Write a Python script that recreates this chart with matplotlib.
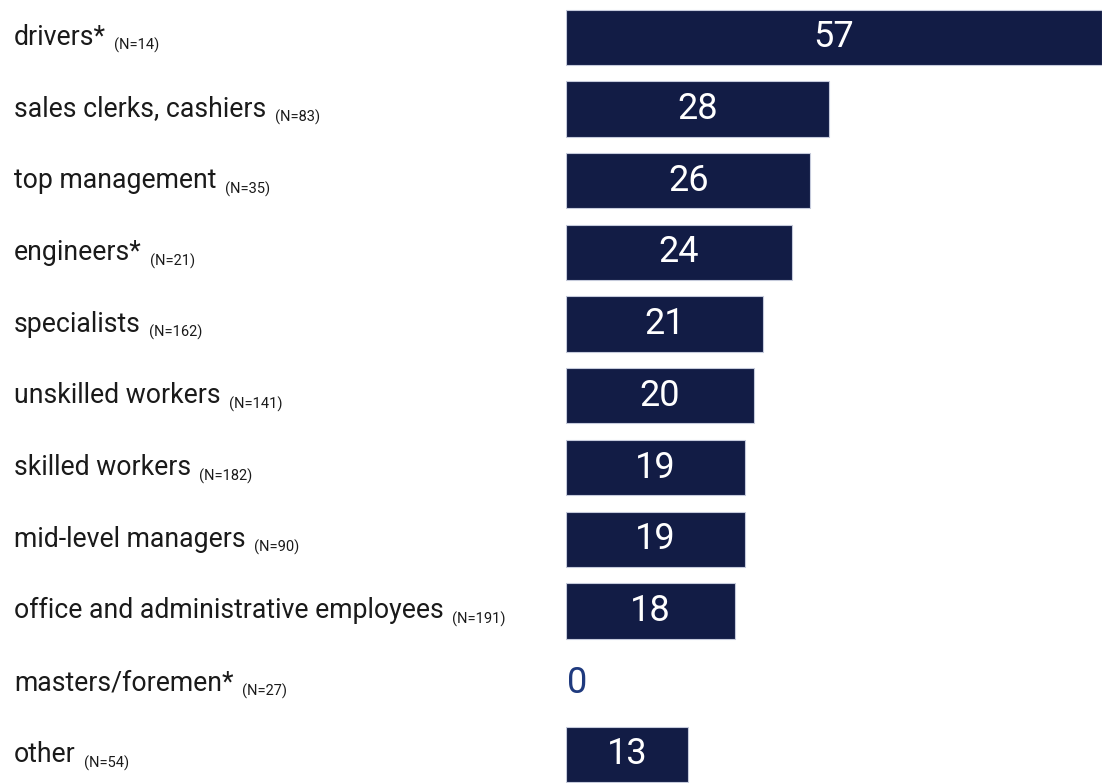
import matplotlib.pyplot as plt

plt.rcParams['font.family'] = ['Roboto', 'DejaVu Sans']

categories = ['drivers*', 'sales clerks, cashiers', 'top management', 'engineers*',
              'specialists', 'unskilled workers', 'skilled workers', 'mid-level managers',
              'office and administrative employees', 'masters/foremen*', 'other']
sample_sizes = [14, 83, 35, 21, 162, 141, 182, 90, 191, 27, 54]
values = [57, 28, 26, 24, 21, 20, 19, 19, 18, 0, 13]

bar_color = '#121c45'
zero_color = '#1f3a7e'

fig = plt.figure(figsize=(11.02, 7.83), dpi=100)
ax = fig.add_axes([566 / 1102, 0, 536 / 1102, 1])

rows = list(range(len(categories)))
edge_widths = [0.8 if v > 0 else 0 for v in values]
ax.barh(rows, values, height=0.77, color=bar_color, edgecolor='#c5cadb',
        linewidth=edge_widths)
ax.set_xlim(0, 57)
ax.set_ylim(10.4, -0.52)
ax.axis('off')

for i, (cat, n, v) in enumerate(zip(categories, sample_sizes, values)):
    # category name on the left, sample size as a small subscript
    y_disp = ax.transData.transform((0, i))[1]
    y_fig = fig.transFigure.inverted().transform((0, y_disp - 7.5))[1]
    label = fig.text(14 / 1102, y_fig, cat, fontsize=19.2, color='#1a1a1a',
                     va='baseline', ha='left')
    ax.annotate(f'(N={n})', xy=(1, 0), xycoords=label, xytext=(6, 0.5),
                textcoords='offset points', fontsize=10.5, color='#1a1a1a',
                va='baseline', ha='left', annotation_clip=False)

    if v == 0:
        ax.text(0.15, i, f'{v}', fontsize=26, color=zero_color, va='center', ha='left')
    else:
        ax.text(v / 2, i, f'{v}', fontsize=26, color='white', va='center', ha='center')

fig.savefig('out.png', dpi=100)
